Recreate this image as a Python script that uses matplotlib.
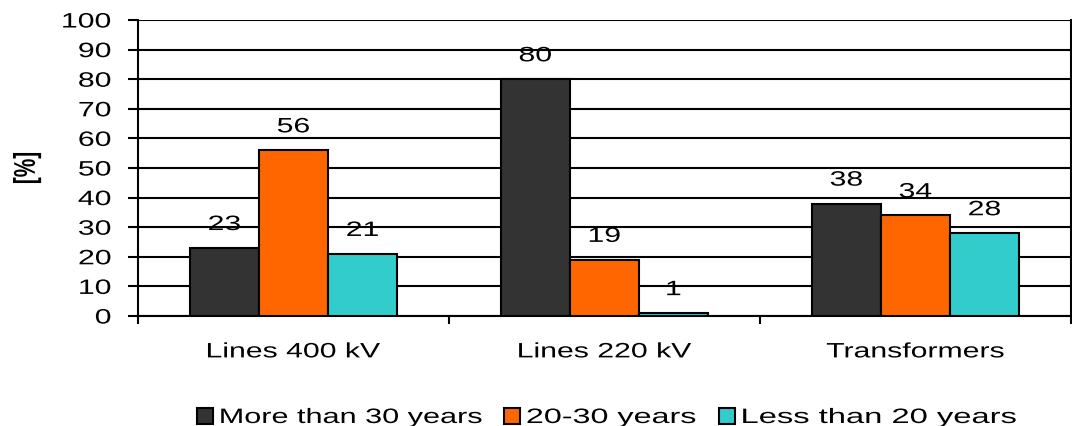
import numpy as np
import matplotlib
matplotlib.use("Agg")
import matplotlib.pyplot as plt
from matplotlib.patheffects import AbstractPathEffect
from matplotlib.transforms import Affine2D

plt.rcParams['font.family'] = ['Liberation Sans', 'DejaVu Sans']

# Data
categories = ["Lines 400 kV", "Lines 220 kV", "Transformers"]
series_names = ["More than 30 years", "20-30 years", "Less than 20 years"]
more_than_30 = [23, 80, 38]
from_20_to_30 = [56, 19, 34]
less_than_20 = [21, 1, 28]
colors = ["#333333", "#ff6600", "#33cccc"]


class StretchX(AbstractPathEffect):
    """Widen text horizontally (the reference text looks stretched)."""

    def __init__(self, sx, anchor="center"):
        super().__init__()
        self.sx = sx
        self.anchor = anchor

    def draw_path(self, renderer, gc, tpath, affine, rgbFace=None):
        ext = tpath.transformed(affine).get_extents()
        if self.anchor == "left":
            x0 = ext.x0
        elif self.anchor == "right":
            x0 = ext.x1
        else:
            x0 = (ext.x0 + ext.x1) / 2
        t = affine + Affine2D().translate(-x0, 0).scale(self.sx, 1).translate(x0, 0)
        renderer.draw_path(gc, tpath, t, rgbFace)


SX = 1.45
FS = 15

fig = plt.figure(figsize=(10.72, 4.27), dpi=100)
ax = fig.add_axes([0.1287, 0.2576, 0.8703, 0.6932])

x = np.arange(len(categories))
width = 0.222
series = [more_than_30, from_20_to_30, less_than_20]
bar_sets = []
for i, (vals, name, col) in enumerate(zip(series, series_names, colors)):
    pos = x + (i - 1) * width
    bars = ax.bar(pos, vals, width, color=col, edgecolor="black", linewidth=1.5,
                  label=name, zorder=3)
    bar_sets.append(bars)
    for b, v in zip(bars, vals):
        ax.annotate(str(v), (b.get_x() + b.get_width() / 2, v),
                    xytext=(0, 10), textcoords="offset points",
                    ha="center", va="bottom", fontsize=FS,
                    path_effects=[StretchX(SX)])

ax.set_xlim(-0.5, 2.5)
ax.set_ylim(0, 100)
ax.set_yticks(range(0, 101, 10))
ax.tick_params(axis="y", labelsize=FS, length=7.2, width=1.5, direction="out", pad=12)
ax.yaxis.grid(True, color="black", linewidth=1.5, zorder=0)
ax.set_axisbelow(True)

# category ticks between groups
ax.set_xticks([-0.5, 0.5, 1.5, 2.5])
ax.set_xticklabels([])
ax.set_xticks(x, minor=True)
ax.set_xticklabels(categories, minor=True, fontsize=FS)
ax.tick_params(axis="x", which="major", length=6, width=1.5)
ax.tick_params(axis="x", which="minor", length=0, pad=19)

for lbl in ax.get_yticklabels():
    lbl.set_path_effects([StretchX(SX, "right")])
for lbl in ax.get_xticklabels(minor=True):
    lbl.set_path_effects([StretchX(SX)])

for s in ["left", "right", "bottom", "top"]:
    ax.spines[s].set_linewidth(1.5)
ax.spines["top"].set_visible(False)

ylab = ax.set_ylabel("[%]", fontsize=FS, fontweight="bold", va="center")
ax.yaxis.set_label_coords(-0.119, 0.5)
ylab.set_path_effects([StretchX(SX)])

# legend entries placed one by one (text is widened, so spacing is manual)
legend_x = [0.1838, 0.4701, 0.6707]
legend_sx = [1.47, 1.55, 1.57]
for bars, name, lx, lsx in zip(bar_sets, series_names, legend_x, legend_sx):
    leg = fig.legend([bars], [name], loc="center left", bbox_to_anchor=(lx, 0.02),
                     frameon=False, fontsize=FS, handlelength=0.78, handleheight=0.78,
                     handletextpad=0.3, borderpad=0, borderaxespad=0)
    for t in leg.get_texts():
        t.set_path_effects([StretchX(lsx, "left")])

fig.savefig("out.png", dpi=100)
